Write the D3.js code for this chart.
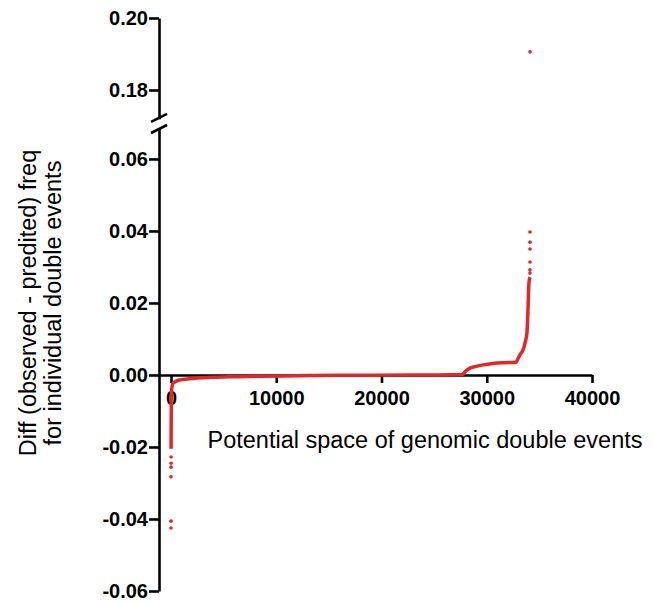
<!DOCTYPE html>
<html>
<head>
<meta charset="utf-8">
<script src="https://cdn.jsdelivr.net/npm/d3@7"></script>
<style>
  body { margin: 0; background: #fff; }
  text { font-family: Arial, "Liberation Sans", Helvetica, sans-serif; }
  .tick text { font-weight: bold; font-size: 20px; fill: #000; }
  .axis path, .axis line { stroke: #000; stroke-width: 2.6px; }
</style>
</head>
<body>
<div id="chart"></div>
<script>
// Values (rank, diff)
var curveRank = [6, 12, 20, 30, 45, 70, 110, 200, 380, 800, 1520, 2500, 3705, 5500, 8456,
                 12000, 16000, 20000, 24000, 27650, 28000, 28405, 29000, 29640, 30590,
                 31700, 32775, 32950, 33155, 33440, 33650, 33820, 33915, 34010, 34105];
var curveDiff = [-0.0205, -0.016, -0.012, -0.0085, -0.0058, -0.0040, -0.0030, -0.0023, -0.0019,
                 -0.0014, -0.0011, -0.00082, -0.00064, -0.00048, -0.00036, -0.00022, -0.0001,
                 -0.00004, 0, 0.0001, 0.0011, 0.0019, 0.0024, 0.0028, 0.0032, 0.0034, 0.0035,
                 0.0044, 0.0056, 0.0069, 0.0090, 0.0117, 0.018, 0.0256, 0.0272];

// isolated points at both ends
var dotRank = [0, 1, 2, 3, 4, 5, 34106, 34107, 34108, 34109, 34110, 34111, 34112];
var dotDiff = [-0.0425, -0.0406, -0.0283, -0.0256, -0.0245, -0.0228,
               0.0283, 0.0292, 0.0314, 0.0350, 0.0369, 0.0397, 0.1906];

var xTicks = [0, 10000, 20000, 30000, 40000];
var lowTicks = [-0.06, -0.04, -0.02, 0.00, 0.02, 0.04, 0.06];
var highTicks = [0.18, 0.20];

var width = 655, height = 602;
var red = "#e3262a";

var svg = d3.select("#chart").append("svg")
    .attr("width", width)
    .attr("height", height);

// x scale
var x = d3.scaleLinear().domain([-1140, 40000]).range([159, 592]);

// broken y axis: two segments with the same px per unit
var yLow = d3.scaleLinear().domain([-0.06, 0.0686]).range([591, 128]);
var yHigh = d3.scaleLinear().domain([0.172, 0.20]).range([118.8, 18]);

function yOf(v) { return v > 0.1 ? yHigh(v) : yLow(v); }
var fmt = function(d) { return d.toFixed(2); };

// Y axis, lower part
svg.append("g")
    .attr("class", "axis")
    .attr("transform", "translate(" + x.range()[0] + ",0)")
    .call(d3.axisLeft(yLow).tickValues(lowTicks).tickFormat(fmt)
        .tickSize(10).tickPadding(1).tickSizeOuter(0));

// Y axis, upper part
svg.append("g")
    .attr("class", "axis")
    .attr("transform", "translate(" + x.range()[0] + ",0)")
    .call(d3.axisLeft(yHigh).tickValues(highTicks).tickFormat(fmt)
        .tickSize(10).tickPadding(1).tickSizeOuter(0));

// break marks
var bx = x.range()[0];
var by1 = yHigh.range()[0], by2 = yLow.range()[1];
[by1 - 1, by2 + 1].forEach(function(cy) {
    svg.append("line")
        .attr("x1", bx - 8).attr("y1", cy + 4)
        .attr("x2", bx + 8).attr("y2", cy - 4)
        .attr("stroke", "#000").attr("stroke-width", 2.6);
});

// X axis at zero
svg.append("g")
    .attr("class", "axis")
    .attr("transform", "translate(0," + yLow(0) + ")")
    .call(d3.axisBottom(x).tickValues(xTicks).tickFormat(d3.format("d"))
        .tickSize(8).tickPadding(8).tickSizeOuter(0));

// data
var line = d3.line()
    .x(function(d, i) { return x(curveRank[i]); })
    .y(function(d) { return yLow(d); })
    .curve(d3.curveMonotoneX);

svg.append("path")
    .datum(curveDiff)
    .attr("fill", "none")
    .attr("stroke", red)
    .attr("stroke-width", 3.5)
    .attr("d", line);

svg.selectAll("circle.dot")
    .data(dotDiff).enter()
    .append("circle")
    .attr("class", "dot")
    .attr("cx", function(d, i) { return x(dotRank[i]); })
    .attr("cy", function(d) { return yOf(d); })
    .attr("r", 1.8)
    .attr("fill", red);

// axis titles
svg.append("text")
    .attr("x", 425).attr("y", 448)
    .attr("text-anchor", "middle")
    .style("font-size", "23.5px")
    .text("Potential space of genomic double events");

var yt = svg.append("text")
    .attr("transform", "translate(36,303) rotate(-90)")
    .attr("text-anchor", "middle")
    .style("font-size", "23.5px");
yt.append("tspan").attr("x", 0).attr("y", 0).text("Diff (observed - predited) freq");
yt.append("tspan").attr("x", 0).attr("y", 25).text("for individual double events");
</script>
</body>
</html>
